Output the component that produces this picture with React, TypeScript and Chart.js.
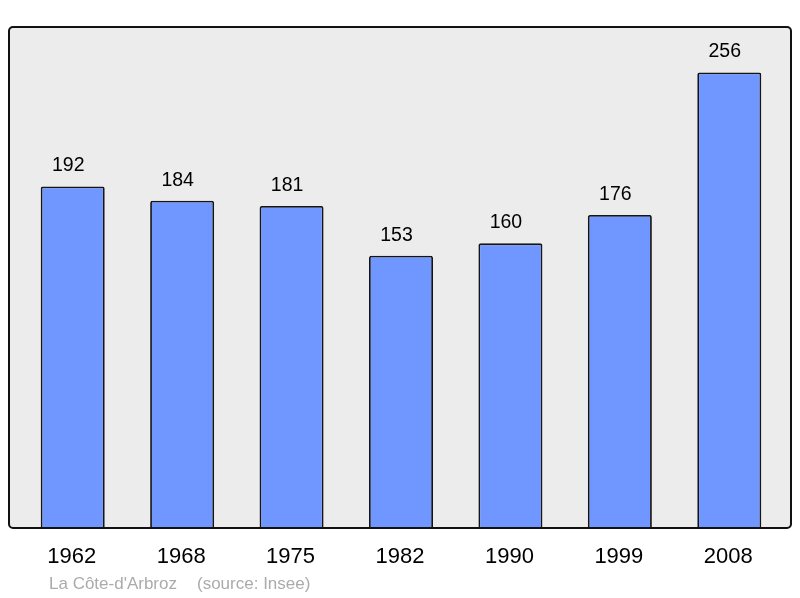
import React, { useEffect, useRef } from "react";
import { Chart, registerables } from "chart.js";

Chart.register(...registerables);

const years = ["1962", "1968", "1975", "1982", "1990", "1999", "2008"];
const population = [192, 184, 181, 153, 160, 176, 256];
const footerName = "La Côte-d'Arbroz";
const footerSource = "(source: Insee)";

const FONT = "'Liberation Sans', Arial, sans-serif";

const decorPlugin = {
  id: "decor",
  beforeDatasetsDraw(chart: any) {
    const { ctx, chartArea } = chart;
    const l = chartArea.left - 9;
    const r = chartArea.right + 7;
    const t = chartArea.top;
    const b = chartArea.bottom;
    ctx.save();
    ctx.beginPath();
    ctx.roundRect(l, t, r - l, b - t, 4);
    ctx.fillStyle = "#ececec";
    ctx.fill();
    ctx.restore();
  },
  afterDatasetsDraw(chart: any) {
    const { ctx, chartArea } = chart;
    const l = chartArea.left - 9;
    const r = chartArea.right + 7;
    const t = chartArea.top;
    const b = chartArea.bottom;
    ctx.save();
    ctx.beginPath();
    ctx.roundRect(l, t, r - l, b - t, 4);
    ctx.lineWidth = 2;
    ctx.strokeStyle = "#111";
    ctx.stroke();

    const meta = chart.getDatasetMeta(0);
    const xs = chart.scales.x;
    ctx.fillStyle = "#000";
    ctx.textAlign = "center";
    ctx.textBaseline = "middle";
    ctx.font = `19.5px ${FONT}`;
    meta.data.forEach((bar: any, i: number) => {
      ctx.fillText(String(population[i]), bar.x - 4.5, bar.y - 20.5);
    });
    ctx.font = `22px ${FONT}`;
    years.forEach((y, i) => {
      ctx.fillText(y, xs.getPixelForValue(i) - 1, b + 29);
    });
    ctx.fillStyle = "#ababab";
    ctx.textAlign = "left";
    ctx.font = `17px ${FONT}`;
    ctx.fillText(footerName, l + 40, b + 56);
    ctx.fillText(footerSource, l + 188, b + 56);
    ctx.restore();
  },
};

export default function App() {
  const ref = useRef<HTMLCanvasElement | null>(null);
  useEffect(() => {
    if (!ref.current) return;
    const chart = new Chart(ref.current, {
      type: "bar",
      data: {
        labels: years,
        datasets: [
          {
            data: population,
            backgroundColor: "#7096ff",
            borderColor: "#151515",
            borderWidth: 1.8,
            borderRadius: 2,
            borderSkipped: "bottom",
            categoryPercentage: 1,
            barPercentage: 0.585,
          },
        ],
      },
      options: {
        animation: false,
        responsive: false,
        maintainAspectRatio: false,
        layout: { padding: { left: 18, right: 16, top: 27, bottom: 70 } },
        plugins: { legend: { display: false }, tooltip: { enabled: false } },
        scales: {
          x: { display: false },
          y: { display: false, min: 0, max: 281.6 },
        },
      },
      plugins: [decorPlugin],
    });
    return () => chart.destroy();
  }, []);
  return (
    <div style={{ position: "fixed", left: 0, top: 0, width: 800, height: 598, background: "#fff" }}>
      <canvas ref={ref} width={800} height={598} style={{ width: 800, height: 598 }} />
    </div>
  );
}
